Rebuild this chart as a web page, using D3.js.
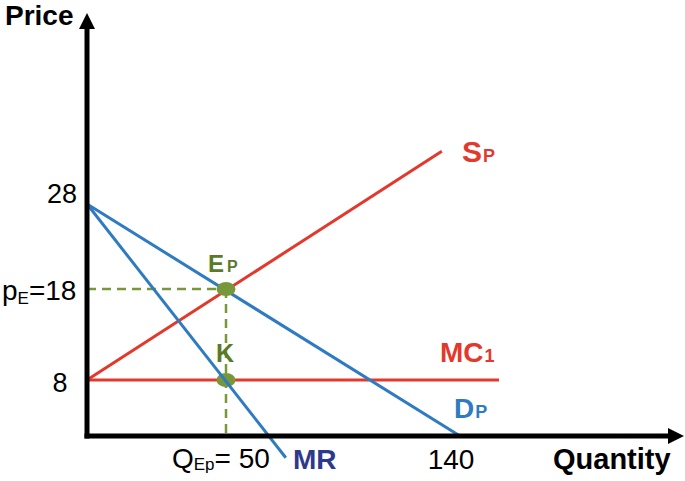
<!DOCTYPE html>
<html><head><meta charset="utf-8">
<script src="https://cdn.jsdelivr.net/npm/d3@7"></script>
<style>html,body{margin:0;padding:0;background:#fff}svg{display:block}text{font-family:Arial,"Liberation Sans",sans-serif}</style>
</head><body>
<script>
// Data (economic units: quantity, price)
const quantityTicks = [50, 140];
const priceTicks = [8, 18, 28];
const demand = [[0, 28], [140, 0]];
const marginalRevenue = [[0, 28], [73, -3.1]];
const supply = [[0, 8], [133, 34.2]];
const marginalCost = [[0, 8], [155, 8]];
const equilibrium = [50, 18];
const pointK = [50, 8];

const W = 685, H = 481;
const svg = d3.select("body").append("svg").attr("width", W).attr("height", H);

// schematic (piecewise) scales
const x = d3.scaleLinear().domain([0, 50, 140]).range([87, 226, 460]);
const y = d3.scaleLinear().domain([0, 8, 18, 28]).range([436, 380, 289, 204]);

const red = "#E3392C", blue = "#2E7BC1", navy = "#2D3A8C", green = "#78973A", dgreen = "#5A7A28";
const line = d3.line().x(d => x(d[0])).y(d => y(d[1]));

// dashed guides
svg.append("path").attr("d", line([[0, equilibrium[1]], equilibrium]))
  .attr("stroke", green).attr("stroke-width", 2.5).attr("stroke-dasharray", "9,6").attr("fill", "none");
svg.append("path").attr("d", line([equilibrium, [equilibrium[0], 0]]))
  .attr("stroke", green).attr("stroke-width", 2.5).attr("stroke-dasharray", "9,6").attr("fill", "none");

svg.append("path").attr("d", line(supply)).attr("stroke", red).attr("stroke-width", 3).attr("fill", "none");
svg.append("path").attr("d", line(marginalCost)).attr("stroke", red).attr("stroke-width", 3).attr("fill", "none");
svg.append("path").attr("d", line(demand)).attr("stroke", blue).attr("stroke-width", 3).attr("fill", "none");

svg.append("ellipse").attr("cx", x(equilibrium[0])).attr("cy", y(equilibrium[1])).attr("rx", 9.5).attr("ry", 7).attr("fill", green);
svg.append("ellipse").attr("cx", x(pointK[0])).attr("cy", y(pointK[1])).attr("rx", 9.5).attr("ry", 7).attr("fill", green);

svg.append("path").attr("d", line(marginalRevenue)).attr("stroke", blue).attr("stroke-width", 3).attr("fill", "none");

// axes
const x0 = x(0), y0 = y(0);
svg.append("line").attr("x1", x0).attr("y1", y0 + 2.5).attr("x2", x0).attr("y2", 26).attr("stroke", "#000").attr("stroke-width", 5);
svg.append("line").attr("x1", x0 - 2.5).attr("y1", y0).attr("x2", 670).attr("y2", y0).attr("stroke", "#000").attr("stroke-width", 5);
svg.append("path").attr("d", `M${x0},13 L${x0 + 8},29 L${x0 - 8},29 Z`).attr("fill", "#000");
svg.append("path").attr("d", `M684,${y0} L668,${y0 - 8} L668,${y0 + 8} Z`).attr("fill", "#000");

// axis titles
svg.append("text").attr("x", 5).attr("y", 25).attr("font-size", 28).attr("font-weight", "bold").text("Price");
svg.append("text").attr("x", 553).attr("y", 469).attr("font-size", 29).attr("font-weight", "bold").text("Quantity");

// price tick labels
svg.append("text").attr("x", 77).attr("y", y(priceTicks[2]) - 1).attr("text-anchor", "end").attr("font-size", 27).text(String(priceTicks[2]));
svg.append("text").attr("x", 60).attr("y", y(priceTicks[0]) + 12).attr("text-anchor", "middle").attr("font-size", 27).text(String(priceTicks[0]));
const pe = svg.append("text").attr("x", 2).attr("y", y(priceTicks[1]) + 11).attr("font-size", 28);
pe.append("tspan").text("p");
pe.append("tspan").attr("font-size", 17).attr("dy", 4).text("E");
pe.append("tspan").attr("dy", -4).text("=" + priceTicks[1]);

// quantity tick labels
const qe = svg.append("text").attr("x", 172).attr("y", 468).attr("font-size", 28);
qe.append("tspan").text("Q");
qe.append("tspan").attr("font-size", 17).attr("dy", 2).text("Ep");
qe.append("tspan").attr("dy", -2).text("= " + quantityTicks[0]);
svg.append("text").attr("x", x(quantityTicks[1]) - 9).attr("y", 469).attr("text-anchor", "middle").attr("font-size", 28).text(String(quantityTicks[1]));

// curve labels
svg.append("text").attr("x", 293).attr("y", 469).attr("font-size", 28).attr("font-weight", "bold").attr("fill", navy).text("MR");
const sp = svg.append("text").attr("x", 462).attr("y", 162).attr("font-size", 30).attr("font-weight", "bold").attr("fill", red);
sp.append("tspan").text("S"); sp.append("tspan").attr("font-size", 18).attr("dx", 1).text("P");
const mc = svg.append("text").attr("x", 440).attr("y", 362).attr("font-size", 28).attr("font-weight", "bold").attr("fill", red);
mc.append("tspan").text("MC"); mc.append("tspan").attr("font-size", 18).attr("dx", 1).text("1");
const dp = svg.append("text").attr("x", 454).attr("y", 418).attr("font-size", 28).attr("font-weight", "bold").attr("fill", blue);
dp.append("tspan").text("D"); dp.append("tspan").attr("font-size", 18).attr("dx", 1).text("P");
const ep = svg.append("text").attr("x", 208).attr("y", 272).attr("font-size", 24).attr("font-weight", "bold").attr("fill", dgreen);
ep.append("tspan").text("E"); ep.append("tspan").attr("font-size", 16).attr("dx", 3).text("P");
svg.append("text").attr("x", 216).attr("y", 362).attr("font-size", 25).attr("font-weight", "bold").attr("fill", dgreen).text("K");
</script>
</body></html>
